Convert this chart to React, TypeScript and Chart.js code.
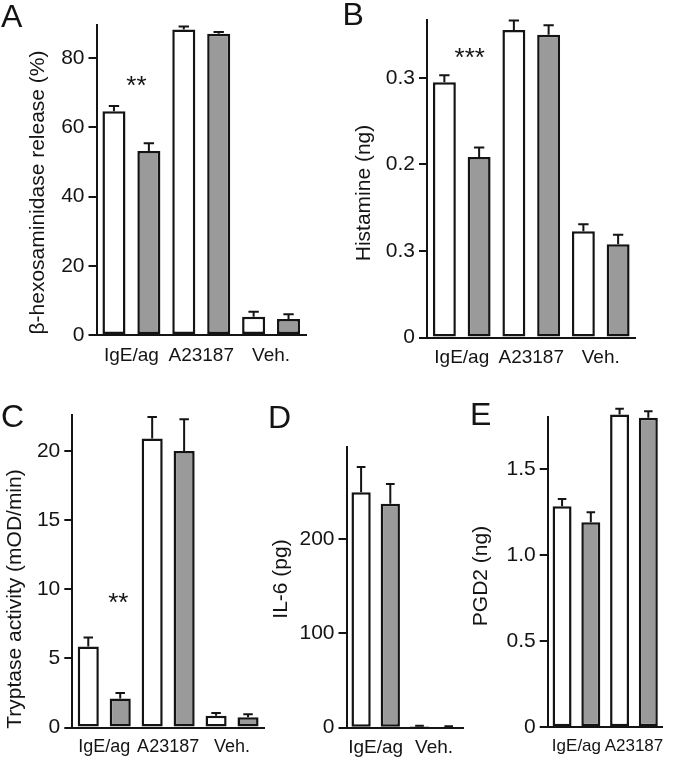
import React, { useEffect, useRef } from "react";
import { Chart, registerables } from "chart.js";

Chart.register(...registerables);

const FONT = "'Liberation Sans', Arial, Helvetica, sans-serif";
const INK = "#141414";
const WHITE = "#ffffff";
const GRAY = "#9a9a9a";

// ---------- Panel A: beta-hexosaminidase release ----------
const catsA = ["IgE/ag", "A23187", "Veh."];
const whiteA = [64.7, 88.3, 5.3];
const whiteErrA = [1.5, 0.9, 1.4];
const grayA = [53.2, 87.1, 4.6];
const grayErrA = [2.2, 0.5, 1.4];
const ticksA = [0, 20, 40, 60, 80];
const tickLabelsA = ["0", "20", "40", "60", "80"];
const maxA = 89.6;

// ---------- Panel B: histamine ----------
const catsB = ["IgE/ag", "A23187", "Veh."];
const whiteB = [0.295, 0.3555, 0.1228];
const whiteErrB = [0.008, 0.011, 0.008];
const grayB = [0.2085, 0.35, 0.1078];
const grayErrB = [0.011, 0.011, 0.011];
const ticksB = [0, 0.1, 0.2, 0.3];
const tickLabelsB = ["0", "0.3", "0.2", "0.3"];
const maxB = 0.367;

// ---------- Panel C: tryptase activity ----------
const catsC = ["IgE/ag", "A23187", "Veh."];
const whiteC = [5.86, 20.9, 0.85];
const whiteErrC = [0.64, 1.55, 0.2];
const grayC = [2.1, 20.0, 0.75];
const grayErrC = [0.4, 2.3, 0.2];
const ticksC = [0, 5, 10, 15, 20];
const tickLabelsC = ["0", "5", "10", "15", "20"];
const maxC = 22.6;

// ---------- Panel D: IL-6 ----------
const catsD = ["IgE/ag", "Veh."];
const whiteD = [249.6, 1.5];
const whiteErrD = [26.8, 0.5];
const grayD = [237.5, 1.0];
const grayErrD = [21.0, 0.5];
const ticksD = [0, 100, 200];
const tickLabelsD = ["0", "100", "200"];
const maxD = 298;

// ---------- Panel E: PGD2 ----------
const catsE = ["IgE/ag", "A23187"];
const whiteE = [1.283, 1.816];
const whiteErrE = [0.043, 0.033];
const grayE = [1.19, 1.797];
const grayErrE = [0.058, 0.038];
const ticksE = [0, 0.5, 1.0, 1.5];
const tickLabelsE = ["0", "0.5", "1.0", "1.5"];
const maxE = 1.8;

type Series = { values: number[]; errors: number[]; color: string };
type Spec = {
  left: number;
  top: number;
  width: number;
  height: number;
  yAxisWidth: number;
  padTop: number;
  padRight: number;
  xAxisHeight: number;
  xFont: number;
  categories: string[];
  series: Series[];
  yMax: number;
  ticks: number[];
  tickLabels: string[];
  letter: string;
  letterX: number;
  letterY: number;
  title: string;
  titleX: number;
  titleY: number;
  stars?: { text: string; dx: number; value: number };
};

const panels: Spec[] = [
  {
    left: 0, top: 0, width: 330, height: 370,
    yAxisWidth: 96.5, padTop: 25, padRight: 24, xAxisHeight: 35, xFont: 19,
    categories: catsA,
    series: [
      { values: whiteA, errors: whiteErrA, color: WHITE },
      { values: grayA, errors: grayErrA, color: GRAY },
    ],
    yMax: maxA, ticks: ticksA, tickLabels: tickLabelsA,
    letter: "A", letterX: 1, letterY: 27,
    title: "β-hexosaminidase release (%)", titleX: 38, titleY: 192.5,
    stars: { text: "**", dx: 5, value: 72.9 },
  },
  {
    left: 330, top: 0, width: 345, height: 370,
    yAxisWidth: 97, padTop: 20, padRight: 39.5, xAxisHeight: 32.5, xFont: 19,
    categories: catsB,
    series: [
      { values: whiteB, errors: whiteErrB, color: WHITE },
      { values: grayB, errors: grayErrB, color: GRAY },
    ],
    yMax: maxB, ticks: ticksB, tickLabels: tickLabelsB,
    letter: "B", letterX: 12.5, letterY: 25,
    title: "Histamine (ng)", titleX: 34, titleY: 193,
    stars: { text: "***", dx: 8, value: 0.326 },
  },
  {
    left: 0, top: 370, width: 268, height: 391,
    yAxisWidth: 72.3, padTop: 45, padRight: 4, xAxisHeight: 33.5, xFont: 18,
    categories: catsC,
    series: [
      { values: whiteC, errors: whiteErrC, color: WHITE },
      { values: grayC, errors: grayErrC, color: GRAY },
    ],
    yMax: maxC, ticks: ticksC, tickLabels: tickLabelsC,
    letter: "C", letterX: 1, letterY: 57,
    title: "Tryptase activity (mOD/min)", titleX: 15, titleY: 229,
    stars: { text: "**", dx: 14, value: 9.2 },
  },
  {
    left: 268, top: 370, width: 202, height: 391,
    yAxisWidth: 78.5, padTop: 76.7, padRight: 6.7, xAxisHeight: 33.3, xFont: 19,
    categories: catsD,
    series: [
      { values: whiteD, errors: whiteErrD, color: WHITE },
      { values: grayD, errors: grayErrD, color: GRAY },
    ],
    yMax: maxD, ticks: ticksD, tickLabels: tickLabelsD,
    letter: "D", letterX: 0, letterY: 58,
    title: "IL-6 (pg)", titleX: 13.7, titleY: 209,
  },
  {
    left: 470, top: 370, width: 205, height: 391,
    yAxisWidth: 77.7, padTop: 47.3, padRight: 11, xAxisHeight: 33.7, xFont: 17,
    categories: catsE,
    series: [
      { values: whiteE, errors: whiteErrE, color: WHITE },
      { values: grayE, errors: grayErrE, color: GRAY },
    ],
    yMax: maxE, ticks: ticksE, tickLabels: tickLabelsE,
    letter: "E", letterX: 0, letterY: 55,
    title: "PGD2 (ng)", titleX: 11.7, titleY: 206,
  },
];

const errorBarPlugin = {
  id: "errorBars",
  afterDatasetsDraw(chart: any) {
    const ctx = chart.ctx;
    const yScale = chart.scales.y;
    chart.data.datasets.forEach((ds: any, di: number) => {
      const meta = chart.getDatasetMeta(di);
      meta.data.forEach((bar: any, i: number) => {
        const v = ds.data[i];
        const e = ds.errors[i];
        const y0 = yScale.getPixelForValue(v);
        const y1 = yScale.getPixelForValue(v + e);
        const cap = bar.width * 0.45;
        ctx.save();
        ctx.strokeStyle = INK;
        ctx.lineWidth = 2;
        ctx.beginPath();
        ctx.moveTo(bar.x, y0);
        ctx.lineTo(bar.x, y1);
        ctx.moveTo(bar.x - cap / 2, y1);
        ctx.lineTo(bar.x + cap / 2, y1);
        ctx.stroke();
        ctx.restore();
      });
    });
  },
};

const panelTextPlugin = {
  id: "panelText",
  afterDraw(chart: any, _args: any, opts: any) {
    const ctx = chart.ctx;
    ctx.save();
    ctx.fillStyle = INK;
    ctx.font = `32px ${FONT}`;
    ctx.textAlign = "left";
    ctx.textBaseline = "alphabetic";
    ctx.fillText(opts.letter, opts.letterX, opts.letterY);
    if (opts.starText) {
      const x = chart.scales.x.getPixelForValue(0) + opts.starDx;
      const y = chart.scales.y.getPixelForValue(opts.starValue) + 11;
      ctx.font = `26px ${FONT}`;
      ctx.textAlign = "center";
      ctx.fillText(opts.starText, x, y);
    }
    ctx.font = `21px ${FONT}`;
    ctx.translate(opts.titleX, opts.titleY);
    ctx.rotate(-Math.PI / 2);
    ctx.textAlign = "center";
    ctx.textBaseline = "middle";
    ctx.fillText(opts.title, 0, 0);
    ctx.restore();
  },
};

function Panel({ spec }: { spec: Spec }) {
  const ref = useRef<HTMLCanvasElement>(null);
  useEffect(() => {
    const chart = new Chart(ref.current as HTMLCanvasElement, {
      type: "bar",
      data: {
        labels: spec.categories,
        datasets: spec.series.map((s) => ({
          data: s.values,
          errors: s.errors,
          backgroundColor: s.color,
          borderColor: INK,
          borderWidth: 2.5,
          borderSkipped: false,
          barPercentage: 0.66,
          categoryPercentage: 1,
          clip: false,
        })) as any,
      },
      options: {
        animation: false,
        responsive: false,
        maintainAspectRatio: false,
        devicePixelRatio: 1,
        layout: { padding: { top: spec.padTop, right: spec.padRight, left: 0, bottom: 0 } },
        plugins: {
          legend: { display: false },
          tooltip: { enabled: false },
          panelText: {
            letter: spec.letter,
            letterX: spec.letterX,
            letterY: spec.letterY,
            title: spec.title,
            titleX: spec.titleX,
            titleY: spec.titleY,
            starText: spec.stars ? spec.stars.text : "",
            starDx: spec.stars ? spec.stars.dx : 0,
            starValue: spec.stars ? spec.stars.value : 0,
          },
        } as any,
        scales: {
          x: {
            grid: { display: false, drawTicks: false },
            border: { display: true, color: INK, width: 2 },
            ticks: {
              color: INK,
              font: { family: FONT, size: spec.xFont },
              padding: 9,
              maxRotation: 0,
              autoSkip: false,
            },
            afterFit: (s: any) => {
              s.height = spec.xAxisHeight;
            },
          },
          y: {
            min: 0,
            max: spec.yMax,
            afterBuildTicks: (s: any) => {
              s.ticks = spec.ticks.map((v) => ({ value: v }));
            },
            ticks: {
              color: INK,
              font: { family: FONT, size: 21 },
              padding: 4,
              callback: (_v: any, i: number) => spec.tickLabels[i],
            },
            grid: {
              display: true,
              drawOnChartArea: false,
              drawTicks: true,
              tickLength: 8,
              color: INK,
              lineWidth: 2,
            },
            border: { display: true, color: INK, width: 2 },
            afterFit: (s: any) => {
              s.width = spec.yAxisWidth;
            },
          },
        },
      } as any,
      plugins: [errorBarPlugin, panelTextPlugin],
    });
    return () => chart.destroy();
  }, []);
  return (
    <canvas
      ref={ref}
      width={spec.width}
      height={spec.height}
      style={{ position: "absolute", left: spec.left, top: spec.top, width: spec.width, height: spec.height }}
    />
  );
}

export default function App() {
  return (
    <div style={{ position: "absolute", left: 0, top: 0, width: 675, height: 761, background: "#fff", overflow: "hidden" }}>
      {panels.map((p, i) => (
        <Panel key={i} spec={p} />
      ))}
    </div>
  );
}
